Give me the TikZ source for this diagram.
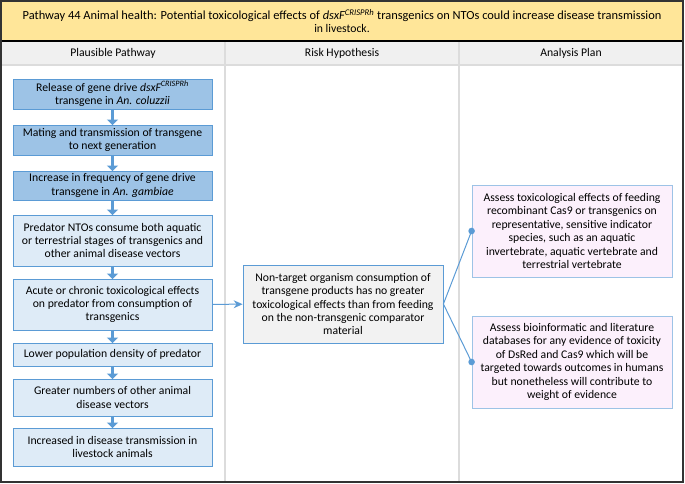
\documentclass[tikz,border=0pt]{standalone}
\usepackage{fontspec}
\setmainfont{Carlito}
\usepackage{tikz}
\usetikzlibrary{arrows.meta}
\definecolor{hdryellow}{HTML}{FFE699}
\definecolor{hdrgray}{HTML}{F0F0F0}
\definecolor{gridgray}{HTML}{DCDCDC}
\definecolor{stepblue}{HTML}{9DC3E6}
\definecolor{paleblue}{HTML}{DEEBF7}
\definecolor{edgeblue}{HTML}{5B9BD5}
\definecolor{planpink}{HTML}{FCF0FC}
\definecolor{boxgray}{HTML}{F2F2F2}

\begin{document}
\begin{tikzpicture}[x=1pt, y=-1pt,
    every node/.style={font=\fontsize{11.7}{13.4}\selectfont, align=center, inner sep=0pt},
    pathbox/.style={draw=edgeblue, line width=0.8pt, minimum width=199pt},
    darkbox/.style={pathbox, fill=stepblue},
    lightbox/.style={pathbox, fill=paleblue},
    hypbox/.style={draw=edgeblue, line width=0.8pt, fill=boxgray, minimum width=200pt, minimum height=78pt},
    planbox/.style={draw=stepblue, line width=0.8pt, fill=planpink, minimum width=200pt, minimum height=92pt},
    blockarrow/.style={edgeblue, line width=3.5pt, -{Triangle[length=5.5pt, width=11pt]}, shorten <=-0.5pt, shorten >=-0.5pt}]
            \useasboundingbox (0,0) rectangle (685,484);
            \fill[hdryellow] (1,1) rectangle (683,41);
            \fill[hdrgray] (1,41) rectangle (683,65);
            \draw[gridgray, line width=2pt] (1,65) -- (683,65);
            \draw[gridgray, line width=2.5pt] (225,41) -- (225,482);
            \draw[gridgray, line width=2.5pt] (459,41) -- (459,482);
            \draw[line width=1.3pt] (1,41) -- (683,41);
            \draw[line width=1.5pt, black!80] (1,1) rectangle (683,482);

            \node (title) at (342,21) {\fontsize{12.4}{14}\selectfont Pathway 44 Animal health: Potential toxicological effects of \textit{dsxF\textsuperscript{CRISPRh}} transgenics on NTOs could increase disease transmission\\ in livestock.};
            \node (col1) at (113,53) {Plausible Pathway};
            \node (col2) at (342,53) {Risk Hypothesis};
            \node (col3) at (571,53) {Analysis Plan};

            \node[darkbox, minimum height=30pt] (p1) at (112.5,94) {Release of gene drive \textit{dsxF\textsuperscript{CRISPRh}}\\ transgene in \textit{An. coluzzii}};
            \node[darkbox, minimum height=30pt] (p2) at (112.5,140) {Mating and transmission of transgene\\ to next generation};
            \node[darkbox, minimum height=29pt] (p3) at (112.5,185.5) {Increase in frequency of gene drive\\ transgene in \textit{An. gambiae}};
            \node[lightbox, minimum height=51pt] (p4) at (112.5,240.5) {Predator NTOs consume both aquatic\\ or terrestrial stages of transgenics and\\ other animal disease vectors};
            \node[lightbox, minimum height=51pt] (p5) at (112.5,304.5) {Acute or chronic toxicological effects\\ on predator from consumption of\\ transgenics};
            \node[lightbox, minimum height=23pt] (p6) at (112.5,354.5) {Lower population density of predator};
            \node[lightbox, minimum height=37pt] (p7) at (112.5,397.5) {Greater numbers of other animal\\ disease vectors};
            \node[lightbox, minimum height=38pt] (p8) at (112.5,447) {Increased in disease transmission in\\ livestock animals};

            \draw[blockarrow] (p1) -- (p2);
            \draw[blockarrow] (p2) -- (p3);
            \draw[blockarrow] (p3) -- (p4);
            \draw[blockarrow] (p4) -- (p5);
            \draw[blockarrow] (p5) -- (p6);
            \draw[blockarrow] (p6) -- (p7);
            \draw[blockarrow] (p7) -- (p8);

            \node[hypbox] (hyp) at (343,304) {Non-target organism consumption of\\ transgene products has no greater\\ toxicological effects than from feeding\\ on the non-transgenic comparator\\ material};

            \node[planbox] (plan1) at (572,231) {Assess toxicological effects of feeding\\ recombinant Cas9 or transgenics on\\ representative, sensitive indicator\\ species, such as an aquatic\\ invertebrate, aquatic vertebrate and\\ terrestrial vertebrate};
            \node[planbox] (plan2) at (572,362) {Assess bioinformatic and literature\\ databases for any evidence of toxicity\\ of DsRed and Cas9 which will be\\ targeted towards outcomes in humans\\ but nonetheless will contribute to\\ weight of evidence};

            \draw[edgeblue, line width=1pt, -{Stealth[length=9pt, width=8pt, inset=3pt]}] (p5) -- (hyp);
            \draw[edgeblue, line width=1pt] (hyp.east) -- (plan1.west);
            \draw[edgeblue, line width=1pt] (hyp.east) -- (plan2.west);
            \fill[edgeblue] (plan1.west) circle (3.3pt);
            \fill[edgeblue] (plan2.west) circle (3.3pt);
        \end{tikzpicture}
\end{document}
